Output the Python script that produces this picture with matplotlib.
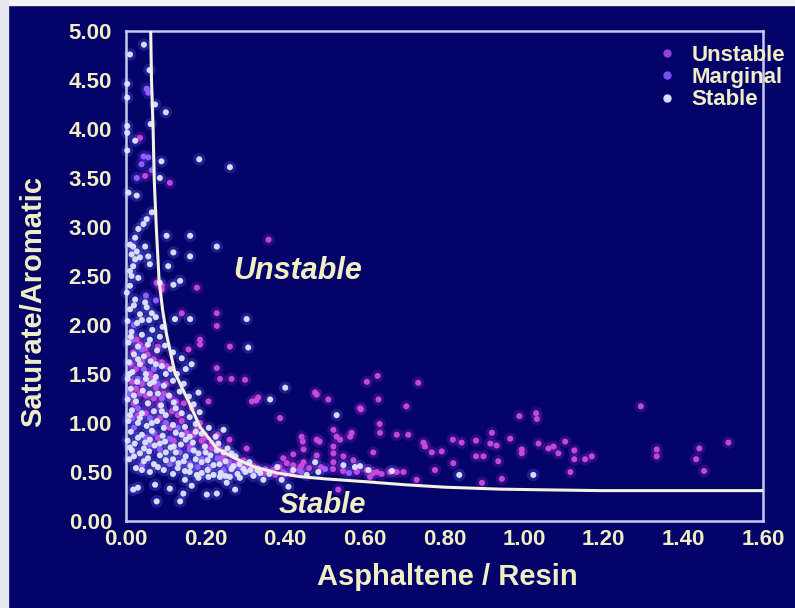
import numpy as np
import matplotlib.pyplot as plt
from matplotlib.lines import Line2D
from matplotlib.patches import Rectangle

plt.rcParams['font.family'] = ['Liberation Sans', 'DejaVu Sans']

# boundary curve
curve_x = [0.062, 0.064, 0.068, 0.071, 0.076, 0.083, 0.092, 0.102, 0.123, 0.157,
           0.186, 0.228, 0.274, 0.320, 0.379, 0.437, 0.500, 0.605, 0.700, 0.800,
           0.940, 1.050, 1.190, 1.400, 1.600]
curve_y = [5.00, 4.50, 4.00, 3.47, 3.00, 2.46, 2.15, 1.90, 1.51, 1.22,
           0.96, 0.74, 0.64, 0.555, 0.49, 0.453, 0.43, 0.40, 0.37, 0.345,
           0.325, 0.318, 0.31, 0.31, 0.31]

stable_pts = np.array([
    # upper part, near the left edge and the curve
    [0.045, 4.86], [0.010, 4.76], [0.059, 4.60], [0.003, 4.46], [0.003, 4.32],
    [0.073, 4.25], [0.100, 4.17], [0.062, 4.05], [0.003, 4.03], [0.003, 3.96],
    [0.023, 3.88], [0.003, 3.78], [0.089, 3.67], [0.184, 3.69], [0.261, 3.61],
    [0.085, 3.50], [0.006, 3.35], [0.027, 3.32], [0.065, 3.15], [0.052, 3.08],
    [0.044, 3.03], [0.031, 2.98], [0.023, 2.89], [0.010, 2.82], [0.018, 2.80],
    [0.027, 2.75], [0.014, 2.72], [0.023, 2.67], [0.035, 2.69], [0.048, 2.80],
    [0.056, 2.70], [0.060, 2.62], [0.018, 2.60], [0.010, 2.55], [0.102, 2.91],
    [0.161, 2.91], [0.228, 2.80], [0.119, 2.74], [0.161, 2.70], [0.106, 2.60],
    [0.014, 2.50], [0.031, 2.48], [0.085, 2.43], [0.119, 2.41], [0.136, 2.45],
    [0.010, 2.40], [0.002, 2.33], [0.023, 2.26], [0.048, 2.23], [0.065, 2.12],
    # dense cluster left of the curve
    [0.010, 2.16], [0.035, 2.11], [0.052, 2.18], [0.004, 2.04], [0.028, 2.02],
    [0.058, 2.05], [0.075, 2.08], [0.092, 1.98], [0.123, 2.06], [0.020, 2.20],
    [0.040, 2.05], [0.012, 1.88], [0.060, 1.85],
    [0.014, 1.93], [0.040, 1.90], [0.066, 1.95], [0.085, 1.88], [0.006, 1.82],
    [0.030, 1.78], [0.055, 1.80], [0.078, 1.74], [0.098, 1.79], [0.118, 1.72],
    [0.020, 1.70], [0.045, 1.68], [0.140, 1.66], [0.030, 1.65], [0.075, 1.60],
    [0.008, 1.62], [0.035, 1.60], [0.062, 1.63], [0.090, 1.58], [0.112, 1.55],
    [0.016, 1.52], [0.050, 1.50], [0.075, 1.47], [0.128, 1.50], [0.150, 1.55],
    [0.100, 1.50], [0.050, 1.45], [0.008, 1.50], [0.070, 1.42],
    [0.004, 1.45], [0.028, 1.42], [0.060, 1.40], [0.095, 1.38], [0.118, 1.43],
    [0.145, 1.40], [0.012, 1.35], [0.042, 1.33], [0.080, 1.30], [0.108, 1.28],
    [0.135, 1.32], [0.158, 1.27], [0.020, 1.28], [0.060, 1.30],
    [0.004, 1.24], [0.025, 1.22], [0.055, 1.20], [0.088, 1.18], [0.120, 1.21],
    [0.170, 1.19], [0.015, 1.13], [0.040, 1.10], [0.070, 1.12], [0.100, 1.08],
    [0.140, 1.10], [0.160, 1.06], [0.185, 1.11], [0.090, 1.12], [0.125, 1.15],
    [0.010, 1.08], [0.035, 1.05], [0.065, 1.00], [0.095, 0.95],
    [0.006, 1.02], [0.030, 1.00], [0.052, 0.97], [0.078, 1.02], [0.118, 0.98],
    [0.148, 0.96], [0.175, 0.99], [0.208, 0.95], [0.012, 0.91], [0.040, 0.88],
    [0.065, 0.92], [0.092, 0.87], [0.125, 0.90], [0.160, 0.86], [0.190, 0.89],
    [0.225, 0.86], [0.140, 0.88], [0.175, 0.91], [0.030, 0.85], [0.060, 0.83],
    [0.004, 0.82], [0.022, 0.79], [0.048, 0.80], [0.072, 0.77], [0.098, 0.81],
    [0.112, 0.75], [0.138, 0.78], [0.168, 0.80], [0.198, 0.76], [0.232, 0.79],
    [0.255, 0.74], [0.015, 0.72], [0.035, 0.69], [0.058, 0.71], [0.085, 0.67],
    [0.125, 0.70], [0.150, 0.66], [0.182, 0.69], [0.212, 0.67], [0.245, 0.70],
    [0.275, 0.66], [0.085, 0.79], [0.120, 0.76], [0.150, 0.83], [0.010, 0.75],
    [0.045, 0.74], [0.100, 0.70], [0.170, 0.72], [0.200, 0.70], [0.228, 0.72],
    [0.265, 0.69], [0.020, 0.66], [0.055, 0.64], [0.118, 0.63], [0.145, 0.61],
    [0.008, 0.63], [0.045, 0.61], [0.070, 0.58], [0.100, 0.62], [0.132, 0.59],
    [0.162, 0.56], [0.190, 0.60], [0.220, 0.57], [0.250, 0.61], [0.285, 0.58],
    [0.310, 0.60], [0.025, 0.54], [0.060, 0.50], [0.095, 0.52], [0.118, 0.48],
    [0.148, 0.51], [0.178, 0.47], [0.205, 0.52], [0.238, 0.49], [0.265, 0.53],
    [0.300, 0.50], [0.330, 0.52], [0.175, 0.63], [0.205, 0.62], [0.235, 0.58],
    [0.270, 0.56], [0.295, 0.53], [0.040, 0.52], [0.080, 0.55], [0.130, 0.54],
    [0.160, 0.50], [0.190, 0.49], [0.220, 0.47], [0.250, 0.46], [0.280, 0.48],
    [0.320, 0.46],
    [0.148, 0.42], [0.182, 0.44], [0.207, 0.45], [0.236, 0.45], [0.261, 0.45],
    [0.286, 0.44], [0.337, 0.49], [0.345, 0.42], [0.391, 0.42], [0.408, 0.35],
    [0.073, 0.37], [0.253, 0.39], [0.018, 0.32], [0.030, 0.34], [0.274, 0.32],
    [0.144, 0.28], [0.203, 0.27], [0.228, 0.28], [0.077, 0.20], [0.136, 0.20],
    [0.110, 0.33], [0.165, 0.36], [0.312, 0.52], [0.360, 0.48], [0.380, 0.55],
    [0.420, 0.52],
    # scattered to the right of the curve
    [0.307, 1.77], [0.303, 2.06], [0.400, 1.36], [0.362, 1.24], [0.529, 1.08],
    [0.475, 0.60], [0.483, 0.50], [0.546, 0.57], [0.575, 0.55], [0.588, 0.56],
    [0.609, 0.52], [0.668, 0.51], [0.454, 0.47], [0.837, 0.47], [1.023, 0.47],
    [0.165, 1.60], [0.182, 1.31], [0.245, 0.93], [0.161, 2.06],
])

marginal_pts = np.array([
    [0.052, 4.41], [0.056, 4.37], [0.044, 3.72], [0.056, 3.71], [0.039, 3.64],
    [0.065, 3.58], [0.027, 3.50], [0.050, 2.30], [0.075, 2.25], [0.020, 2.00],
    [0.040, 1.75], [0.070, 1.55], [0.030, 1.45], [0.010, 1.30], [0.090, 1.25],
    [0.030, 1.15], [0.060, 1.05], [0.020, 0.95], [0.130, 0.95], [0.050, 0.85],
    [0.110, 0.84], [0.085, 0.73], [0.160, 0.73], [0.040, 0.57], [0.160, 0.58],
    [0.190, 0.63], [0.230, 0.64], [0.210, 0.55], [0.260, 0.57], [0.290, 0.55],
    [0.350, 0.53], [0.400, 0.48], [0.440, 0.50], [0.500, 0.53], [0.560, 0.49],
    [0.015, 1.85], [0.045, 1.55], [0.080, 1.40], [0.015, 1.05], [0.100, 1.00],
    [0.070, 0.90], [0.135, 0.70], [0.180, 0.55], [0.245, 0.52], [0.320, 0.50],
    [0.060, 0.78], [0.110, 0.58],
])

unstable_pts = np.array([
    # near the curve, upper part
    [0.048, 3.52], [0.035, 3.91], [0.110, 3.45], [0.358, 2.87], [0.090, 2.40],
    [0.178, 2.38], [0.077, 2.43], [0.090, 2.36], [0.140, 2.12], [0.228, 2.12],
    [0.228, 1.99], [0.186, 1.85], [0.186, 1.80], [0.157, 1.75], [0.261, 1.78],
    [0.228, 1.56], [0.236, 1.45], [0.265, 1.45], [0.299, 1.44], [0.332, 1.26],
    [0.327, 1.23], [0.387, 1.05], [0.316, 1.22], [0.207, 1.22], [0.475, 1.31],
    [0.303, 0.74], [0.395, 0.64], [0.420, 0.68], [0.441, 0.86], [0.444, 0.81],
    [0.479, 0.83],
    # inside the dense cluster
    [0.027, 1.85], [0.035, 1.80], [0.048, 1.76], [0.070, 1.65], [0.102, 1.58],
    [0.090, 1.62], [0.060, 1.50], [0.025, 1.55], [0.012, 1.60], [0.040, 1.40],
    [0.075, 1.36], [0.110, 1.27], [0.095, 1.30], [0.070, 1.25], [0.035, 1.30],
    [0.020, 1.20], [0.125, 1.22], [0.145, 1.20], [0.165, 1.15], [0.186, 1.00],
    [0.152, 0.90], [0.161, 0.76], [0.200, 0.76], [0.215, 0.80], [0.235, 0.73],
    [0.250, 0.68], [0.270, 0.66], [0.295, 0.62], [0.320, 0.56], [0.345, 0.49],
    [0.370, 0.52], [0.385, 0.55], [0.404, 0.59], [0.420, 0.57], [0.440, 0.56],
    [0.460, 0.54], [0.490, 0.55], [0.520, 0.53], [0.545, 0.51], [0.580, 0.50],
    [0.605, 0.52], [0.630, 0.50], [0.050, 1.10], [0.085, 1.05], [0.110, 0.95],
    [0.130, 1.08], [0.015, 1.42], [0.055, 1.20], [0.080, 0.85], [0.120, 0.82],
    [0.180, 0.95], [0.200, 0.85], [0.230, 0.88], [0.260, 0.83],
    [0.018, 1.72], [0.055, 1.70], [0.080, 1.78], [0.040, 1.62], [0.065, 1.45],
    [0.100, 1.40], [0.025, 1.35], [0.050, 1.28], [0.085, 1.18], [0.030, 1.08],
    [0.115, 1.12], [0.140, 1.02], [0.170, 0.88], [0.190, 0.82], [0.215, 0.74],
    [0.240, 0.64], [0.260, 0.60], [0.280, 0.58], [0.300, 0.57], [0.330, 0.54],
    [0.355, 0.51], [0.375, 0.47], [0.395, 0.50], [0.415, 0.48], [0.435, 0.52],
    # right-hand spread
    [0.479, 1.29], [0.508, 1.24], [0.605, 1.42], [0.632, 1.48], [0.634, 1.24],
    [0.734, 1.41], [0.590, 1.14], [0.704, 1.17], [0.637, 0.99], [0.638, 0.90],
    [0.486, 0.81], [0.521, 0.93], [0.529, 0.86], [0.538, 0.83], [0.567, 0.90],
    [0.680, 0.88], [0.709, 0.88], [0.747, 0.80], [0.751, 0.76], [0.768, 0.70],
    [0.793, 0.71], [0.821, 0.83], [0.843, 0.80], [0.879, 0.82], [0.919, 0.90],
    [0.915, 0.79], [0.931, 0.77], [0.965, 0.84], [0.988, 1.07], [0.994, 0.73],
    [0.994, 0.69], [1.030, 1.10], [1.032, 1.04], [1.036, 0.79], [1.061, 0.74],
    [1.074, 0.76], [1.086, 0.69], [1.103, 0.81], [1.126, 0.72], [1.126, 0.63],
    [1.153, 0.63], [1.170, 0.66], [1.116, 0.50], [1.293, 1.17], [1.333, 0.73],
    [1.333, 0.66], [1.440, 0.74], [1.432, 0.63], [1.452, 0.51], [1.513, 0.80],
    [0.944, 0.43], [0.894, 0.39], [0.935, 0.61], [0.822, 0.59], [0.776, 0.52],
    [0.879, 0.66], [0.898, 0.66], [0.730, 0.42], [0.697, 0.50], [0.680, 0.50],
    [0.663, 0.50], [0.642, 0.48], [0.621, 0.49], [0.613, 0.45], [0.533, 0.32],
    [0.571, 0.62], [0.621, 0.70], [0.521, 0.69], [0.521, 0.60], [0.446, 0.73],
    [0.446, 0.60], [0.588, 1.15], [0.563, 0.86], [0.521, 0.76], [0.546, 0.66],
    [0.479, 0.67],
])

BG = '#03036a'
CREAM = '#f2eec4'

fig = plt.figure(figsize=(7.95, 6.08), dpi=100, facecolor=BG)
fig.add_artist(Rectangle((0, 1 - 5 / 608), 1, 5 / 608, transform=fig.transFigure,
                         color='#f4f4f8', zorder=10))
fig.add_artist(Rectangle((0, 0), 8 / 795, 1, transform=fig.transFigure,
                         color='#e8e8f0', zorder=10))

ax = fig.add_axes([0.1585, 0.1431, 0.8013, 0.806], facecolor=BG)

# unstable first so the white stable dots sit on top in the dense cluster
groups = [
    (unstable_pts, '#c64ee0', '#a020c8'),
    (marginal_pts, '#9466ff', '#6a3cff'),
    (stable_pts, '#e4e4ff', '#6e6eff'),
]
for pts, core, glow in groups:
    ax.scatter(pts[:, 0], pts[:, 1], s=80, color=glow, alpha=0.25,
               edgecolors='none', clip_on=False, zorder=2)
    ax.scatter(pts[:, 0], pts[:, 1], s=19, color=core, alpha=0.95,
               edgecolors='none', clip_on=False, zorder=3)

ax.plot(curve_x, curve_y, color='#f4f2dc', lw=2.2, zorder=4)

ax.set_xlim(0, 1.6)
ax.set_ylim(0, 5)
xt = np.arange(0, 1.61, 0.2)
yt = np.arange(0, 5.01, 0.5)
ax.set_xticks(xt)
ax.set_xticklabels([f'{v:.2f}' for v in xt])
ax.set_yticks(yt)
ax.set_yticklabels([f'{v:.2f}' for v in yt])
ax.tick_params(length=0, labelcolor=CREAM, labelsize=16)
ax.tick_params(axis='x', pad=6)
ax.tick_params(axis='y', pad=10)
for lab in ax.get_xticklabels() + ax.get_yticklabels():
    lab.set_fontweight('bold')
for sp in ax.spines.values():
    sp.set_color('#c8c8f4')
    sp.set_linewidth(1.8)

fig.text(447 / 795, 1 - 577 / 608, 'Asphaltene / Resin', ha='center', va='center',
         color=CREAM, fontsize=21, fontweight='bold')
fig.text(33 / 795, 1 - 301 / 608, 'Saturate/Aromatic', ha='center', va='center',
         rotation=90, color=CREAM, fontsize=21, fontweight='bold')

ax.text(0.432, 2.55, 'Unstable', ha='center', va='center', color=CREAM,
        fontsize=22, fontweight='bold', style='italic', zorder=5)
ax.text(0.492, 0.16, 'Stable', ha='center', va='center', color=CREAM,
        fontsize=21, fontweight='bold', style='italic', zorder=5)

handles = [
    Line2D([], [], ls='none', marker='o', ms=5, color='#9a40d8', label='Unstable'),
    Line2D([], [], ls='none', marker='o', ms=5, color='#7a4cff', label='Marginal'),
    Line2D([], [], ls='none', marker='o', ms=5, color='#dcdcff', label='Stable'),
]
leg = ax.legend(handles=handles, loc='upper left', bbox_to_anchor=(645 / 795, 1 - 34 / 608),
                bbox_transform=fig.transFigure, frameon=False, borderpad=0,
                handlelength=1.0, handletextpad=0.6, labelspacing=0.05,
                prop={'weight': 'bold', 'size': 16})
for t in leg.get_texts():
    t.set_color(CREAM)

fig.savefig('out.png', dpi=100, facecolor=fig.get_facecolor())
